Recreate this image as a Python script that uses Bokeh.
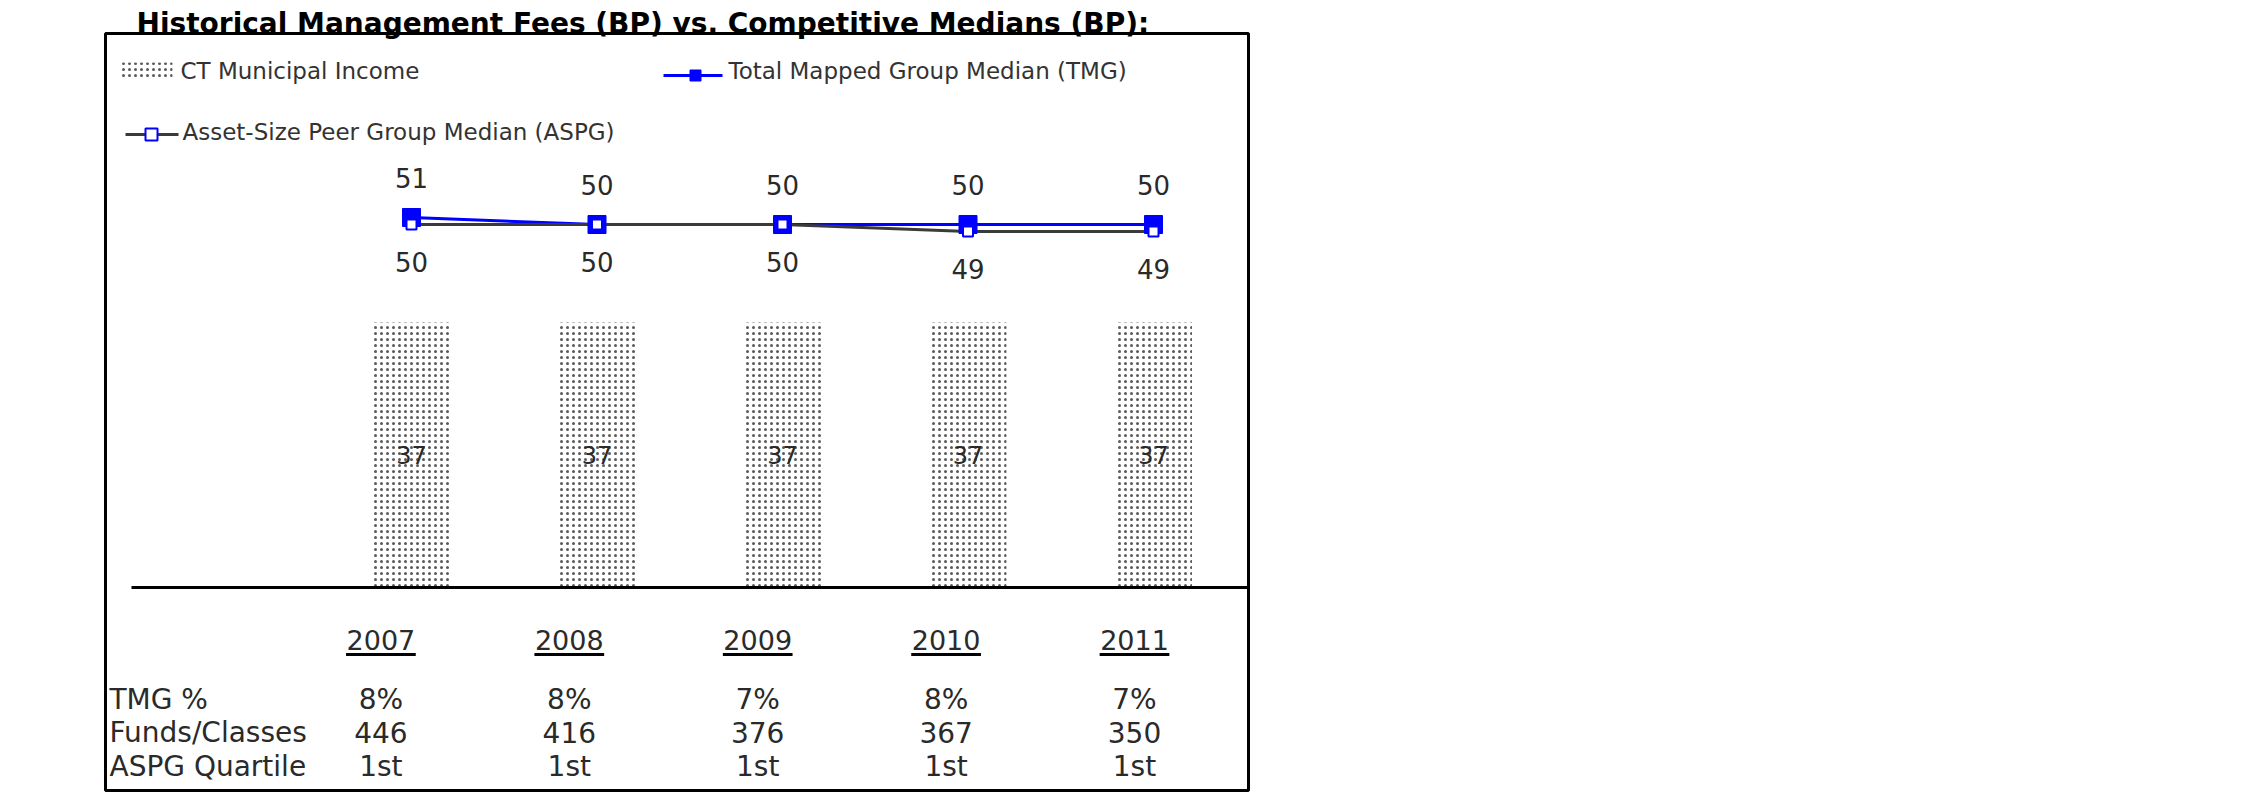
from bokeh.plotting import figure
from bokeh.models import Range1d
from bokeh.core.properties import value
from bokeh.embed import file_html
from bokeh.resources import INLINE

# ---------------- data ----------------
years = ["2007", "2008", "2009", "2010", "2011"]
ct_fees = [37, 37, 37, 37, 37]
tmg_median = [51, 50, 50, 50, 50]
aspg_median = [50, 50, 50, 49, 49]
tmg_pct = ["8%", "8%", "7%", "8%", "7%"]
funds_classes = [446, 416, 376, 367, 350]
aspg_quartile = ["1st", "1st", "1st", "1st", "1st"]

title = "Historical Management Fees (BP) vs. Competitive Medians (BP):"
series_names = ["CT Municipal Income", "Total Mapped Group Median (TMG)",
                "Asset-Size Peer Group Median (ASPG)"]
row_labels = ["TMG %", "Funds/Classes", "ASPG Quartile"]

# ---------------- layout ----------------
W, H = 1260, 796
FONT = value("DejaVu Sans")
TXT = "#2a2a2a"

idx = list(range(len(years)))

# x: year index -> canvas px (centre 411, step 185.5)
x0_px, x_step = 411.0, 185.5
x_start = -x0_px / x_step
x_end = x_start + W / x_step
# y for bars: 0 at canvas 587, 37 at canvas 322
base_px, px_per = 587.0, 265.0 / 37.0
y_start = (base_px - H) / px_per
y_end = base_px / px_per

p = figure(width=W, height=H, output_backend="svg", toolbar_location=None,
           x_range=Range1d(x_start, x_end), y_range=Range1d(y_start, y_end),
           x_axis_location=None, y_axis_location=None, min_border=0,
           outline_line_color=None, background_fill_color="white",
           border_fill_color="white")
p.xgrid.visible = False
p.ygrid.visible = False

# lines scale: 50 at canvas 224, 7 px per unit
l_px, l_per = 224.0, 7.0
p.extra_y_ranges = {
    "lines": Range1d(50 - (H - l_px) / l_per, 50 + l_px / l_per),
    "px": Range1d(H, 0),
}
# table columns: centre 380.4, step 188.4
t0, t_step = 380.4, 188.4
p.extra_x_ranges = {
    "px": Range1d(0, W),
    "tbl": Range1d(-t0 / t_step, -t0 / t_step + W / t_step),
}

# outer box
p.quad(left=[105], right=[1248], top=[33], bottom=[790], fill_color=None,
       line_color="black", line_width=3, x_range_name="px", y_range_name="px")

# title
p.text(x=[136], y=[23], text=[title], x_range_name="px", y_range_name="px",
       text_font=FONT, text_font_style="bold", text_font_size="28px",
       text_color="black", text_baseline="alphabetic", text_align="left")

# ---------------- bars ----------------
hatch = dict(fill_color="white", line_color=None, hatch_pattern="dot",
             hatch_color="#5a5a5a", hatch_scale=6, hatch_weight=3)
p.vbar(x=idx, top=ct_fees, bottom=0, width=0.415, **hatch)
p.text(x=idx, y=[v / 2 for v in ct_fees], text=[str(v) for v in ct_fees],
       text_font=FONT, text_font_size="24px", text_color=TXT,
       text_align="center", text_baseline="middle")

# baseline axis
p.segment(x0=[131], x1=[1248], y0=[0], y1=[0], x_range_name="px",
          line_color="black", line_width=3)

# ---------------- lines ----------------
p.line(idx, tmg_median, y_range_name="lines", line_color="#0000ff", line_width=3)
p.line(idx, aspg_median, y_range_name="lines", line_color="#3a3a3a", line_width=3)
p.scatter(idx, tmg_median, y_range_name="lines", marker="square", size=18,
          fill_color="#0000ff", line_color="#0000ff")
p.scatter(idx, aspg_median, y_range_name="lines", marker="square", size=10,
          fill_color="white", line_color="#0000ff", line_width=2)
p.text(x=idx, y=tmg_median, text=[str(v) for v in tmg_median], y_range_name="lines",
       y_offset=-40, text_font=FONT, text_font_size="26px", text_color=TXT,
       text_align="center", text_baseline="middle")
p.text(x=idx, y=aspg_median, text=[str(v) for v in aspg_median], y_range_name="lines",
       y_offset=37, text_font=FONT, text_font_size="26px", text_color=TXT,
       text_align="center", text_baseline="middle")

# ---------------- legend ----------------
lg = dict(x_range_name="px", y_range_name="px")
p.quad(left=[120], right=[172], top=[62], bottom=[78], **hatch, **lg)
p.segment(x0=[663], x1=[722], y0=[75], y1=[75], line_color="#0000ff", line_width=3, **lg)
p.scatter([695], [75], marker="square", size=11, fill_color="#0000ff",
          line_color="#0000ff", **lg)
p.segment(x0=[125], x1=[178], y0=[134], y1=[134], line_color="#3a3a3a", line_width=3, **lg)
p.scatter([151], [134], marker="square", size=12, fill_color="white",
          line_color="#0000ff", line_width=2, **lg)
p.text(x=[180, 728, 182], y=[70, 70, 131], text=series_names, text_font=FONT,
       text_font_size="23px", text_color="#333333", text_align="left",
       text_baseline="middle", **lg)

# ---------------- table ----------------
p.text(x=idx, y=[639] * 5, text=years, x_range_name="tbl", y_range_name="px",
       text_font=FONT, text_font_size="27px", text_color=TXT,
       text_align="center", text_baseline="middle")
p.segment(x0=[i - 0.185 for i in idx], x1=[i + 0.185 for i in idx], y0=[654] * 5,
          y1=[654] * 5, x_range_name="tbl", y_range_name="px",
          line_color="black", line_width=3)
row_y = [699, 732, 766]
p.text(x=[109] * 3, y=row_y, text=row_labels, x_range_name="px", y_range_name="px",
       text_font=FONT, text_font_size="28px", text_color=TXT,
       text_align="left", text_baseline="middle")
for vals, yy in zip([tmg_pct, [str(v) for v in funds_classes], aspg_quartile], row_y):
    p.text(x=idx, y=[yy] * 5, text=vals, x_range_name="tbl", y_range_name="px",
           text_font=FONT, text_font_size="28px", text_color=TXT,
           text_align="center", text_baseline="middle")

open("out.html", "w").write(file_html(p, INLINE))
